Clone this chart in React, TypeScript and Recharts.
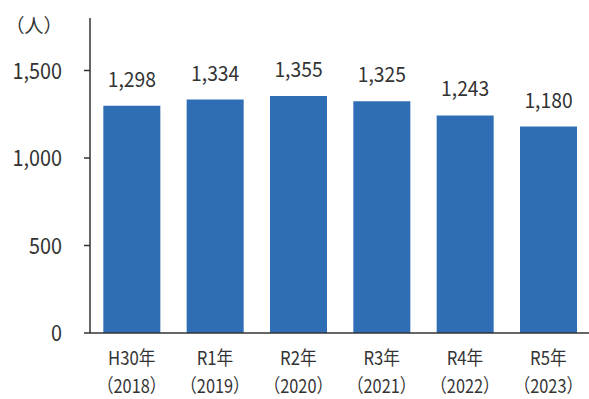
import React from 'react';
import { BarChart, Bar, XAxis, YAxis, LabelList } from 'recharts';

const eraLabels = ['H30年', 'R1年', 'R2年', 'R3年', 'R4年', 'R5年'];
const yearLabels = ['（2018）', '（2019）', '（2020）', '（2021）', '（2022）', '（2023）'];
const values = [1298, 1334, 1355, 1325, 1243, 1180];
const yTicks = [0, 500, 1000, 1500];

const data = eraLabels.map((e, i) => ({ name: e, year: yearLabels[i], value: values[i] }));

const FONT = '"Noto Sans CJK JP", "Noto Sans", sans-serif';
const fmt = (v: number) => v.toLocaleString('en-US');

const SText = (p: { x: number; y: number; size: number; sx: number; anchor: string; children: any }) => (
  <text
    transform={`translate(${p.x},${p.y}) scale(${p.sx},1)`}
    x={0}
    y={0}
    textAnchor={p.anchor as any}
    fontFamily={FONT}
    fontSize={p.size}
    fill="#333"
  >
    {p.children}
  </text>
);

const XTick = (props: any) => {
  const { x, y, payload, index } = props;
  return (
    <g>
      <SText x={x} y={y + 24} size={19} sx={0.88} anchor="middle">{payload.value}</SText>
      <SText x={x} y={y + 52} size={19} sx={0.86} anchor="middle">{yearLabels[index]}</SText>
    </g>
  );
};

const YTick = (props: any) => {
  const { x, y, payload } = props;
  return (
    <SText x={x} y={y + 8} size={22} sx={0.9} anchor="end">{fmt(payload.value)}</SText>
  );
};

const ValueLabel = (props: any) => {
  const { x, y, width, value } = props;
  return (
    <SText x={x + width / 2} y={y - 19} size={21} sx={0.92} anchor="middle">{fmt(Number(value))}</SText>
  );
};

export default function App() {
  return (
    <div style={{ position: 'absolute', left: 0, top: 0, width: 589, height: 399, background: '#fff' }}>
      <BarChart width={589} height={399} data={data} margin={{ top: 18, right: -1, bottom: 0, left: 0 }} barCategoryGap="16%">
        <XAxis dataKey="name" tick={<XTick />} tickLine={false} axisLine={{ stroke: '#333', strokeWidth: 1.5 }} height={66} interval={0} />
        <YAxis
          domain={[0, 1800]}
          ticks={yTicks}
          tick={<YTick />}
          tickSize={6}
          tickMargin={22}
          axisLine={{ stroke: '#333', strokeWidth: 1.5 }}
          tickLine={{ stroke: '#333', strokeWidth: 1.5 }}
          width={90}
        />
        <Bar dataKey="value" fill="#2F6EB5" isAnimationActive={false}>
          <LabelList dataKey="value" content={<ValueLabel />} />
        </Bar>
        <text x={34} y={33} textAnchor="middle" fontFamily={FONT} fontSize={19} fill="#333">（人）</text>
      </BarChart>
    </div>
  );
}
